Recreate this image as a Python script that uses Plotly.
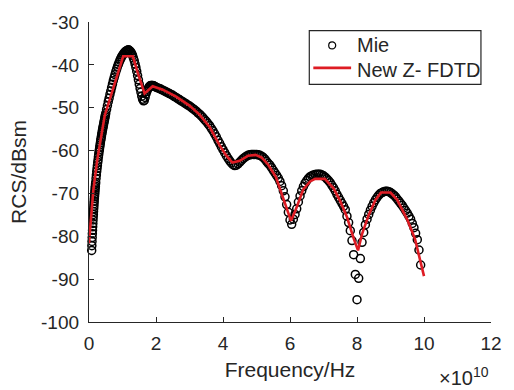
import plotly.graph_objects as go

# Frequency in units of 1e10 Hz, RCS in dBsm
mie_freq = [
    0.080, 0.085, 0.090, 0.095, 0.100, 0.105, 0.110, 0.115, 0.120, 0.125,
    0.130, 0.135, 0.140, 0.145, 0.150, 0.155, 0.160, 0.165, 0.170, 0.175,
    0.180, 0.185, 0.190, 0.195, 0.200,
    0.21, 0.22, 0.23, 0.24, 0.25, 0.26, 0.27, 0.28, 0.29, 0.30,
    0.31, 0.32, 0.33, 0.34, 0.35, 0.36, 0.37, 0.38, 0.39, 0.40,
    0.41, 0.42, 0.43, 0.44, 0.45, 0.46, 0.47, 0.48, 0.49, 0.50,
    0.525, 0.55, 0.575, 0.6, 0.625, 0.65, 0.675, 0.7, 0.725, 0.75,
    0.775, 0.8, 0.825, 0.85, 0.875, 0.9, 0.925, 0.95, 0.975, 1.0,
    1.025, 1.05, 1.075, 1.1, 1.125, 1.15, 1.175, 1.2, 1.225, 1.25,
    1.275, 1.3, 1.325, 1.35, 1.375, 1.4, 1.425, 1.45, 1.475, 1.5,
    1.525, 1.55, 1.575, 1.6, 1.625, 1.65, 1.675, 1.7, 1.725, 1.75,
    1.775, 1.8, 1.825, 1.85, 1.875, 1.9, 1.925, 1.95, 1.975, 2.0,
    2.05, 2.1, 2.15, 2.2, 2.25, 2.3, 2.35, 2.4, 2.45, 2.5,
    2.55, 2.6, 2.65, 2.7, 2.75, 2.8, 2.85, 2.9, 2.95, 3.0,
    3.05, 3.1, 3.15, 3.2, 3.25, 3.3, 3.35, 3.4, 3.45, 3.5,
    3.55, 3.6, 3.65, 3.7, 3.75, 3.8, 3.85, 3.9, 3.95, 4.0,
    4.05, 4.1, 4.15, 4.2, 4.25, 4.3, 4.35, 4.4, 4.45, 4.5,
    4.55, 4.6, 4.65, 4.7, 4.75, 4.8, 4.85, 4.9, 4.95, 5.0,
    5.05, 5.1, 5.15, 5.2, 5.25, 5.3, 5.35, 5.4, 5.45, 5.5,
    5.55, 5.6, 5.65, 5.7, 5.75, 5.8, 5.85, 5.9, 5.95, 6.0,
    6.05, 6.1, 6.15, 6.2, 6.25, 6.3, 6.35, 6.4, 6.45, 6.5,
    6.55, 6.6, 6.65, 6.7, 6.75, 6.8, 6.85, 6.9, 6.95, 7.0,
    7.05, 7.1, 7.15, 7.2, 7.25, 7.3, 7.35, 7.4, 7.45, 7.5,
    7.55, 7.6, 7.65, 7.7, 7.75, 7.8, 7.85, 7.9, 7.95, 8.0,
    8.05, 8.1, 8.15, 8.2, 8.25, 8.3, 8.35, 8.4, 8.45, 8.5,
    8.55, 8.6, 8.65, 8.7, 8.75, 8.8, 8.85, 8.9, 8.95, 9.0,
    9.05, 9.1, 9.15, 9.2, 9.25, 9.3, 9.35, 9.4, 9.45, 9.5,
    9.55, 9.6, 9.65, 9.7, 9.75, 9.8, 9.85, 9.9,
]
mie_rcs = [
    -83.3, -82.2, -81.2, -80.3, -79.4, -78.6, -77.8, -77.0, -76.2, -75.5,
    -74.9, -74.2, -73.6, -73.0, -72.4, -71.8, -71.2, -70.7, -70.2, -69.7,
    -69.2, -68.7, -68.3, -67.8, -67.4,
    -66.5, -65.7, -64.9, -64.2, -63.5, -62.8, -62.2, -61.5, -60.9, -60.3,
    -59.8, -59.2, -58.7, -58.2, -57.6, -57.2, -56.7, -56.2, -55.8, -55.3,
    -54.9, -54.5, -54.1, -53.7, -53.3, -52.9, -52.5, -52.1, -51.7, -51.3,
    -50.4, -49.5, -48.6, -47.8, -46.9, -46.1, -45.3, -44.5, -43.7, -43.0,
    -42.3, -41.6, -41.0, -40.4, -39.9, -39.4, -38.9, -38.5, -38.1, -37.8,
    -37.5, -37.2, -37.0, -36.8, -36.7, -36.6, -36.5, -36.6, -36.8, -37.0,
    -37.4, -37.8, -38.4, -39.0, -39.8, -40.6, -41.5, -42.5, -43.5, -44.5,
    -45.5, -46.4, -47.3, -48.0, -48.4, -48.3, -47.6, -46.8, -46.2, -45.7,
    -45.4, -45.1, -44.9, -44.8, -44.8, -44.8, -44.9, -45.0, -45.1, -45.2,
    -45.4, -45.5, -45.7, -45.9, -46.1, -46.3, -46.5, -46.7, -46.9, -47.1,
    -47.4, -47.6, -47.9, -48.1, -48.4, -48.6, -48.9, -49.1, -49.4, -49.6,
    -49.9, -50.2, -50.5, -50.8, -51.2, -51.5, -51.9, -52.3, -52.8, -53.2,
    -53.7, -54.2, -54.8, -55.4, -56.1, -56.8, -57.6, -58.3, -59.1, -59.8,
    -60.5, -61.2, -61.8, -62.4, -62.9, -63.3, -63.5, -63.4, -63.1, -62.7,
    -62.3, -61.9, -61.6, -61.3, -61.1, -61.0, -60.9, -60.9, -60.9, -60.9,
    -61.0, -61.1, -61.3, -61.6, -62.0, -62.5, -63.0, -63.4, -64.0, -64.6,
    -65.2, -65.8, -66.4, -67.2, -68.2, -69.4, -70.8, -72.6, -74.4, -76.2,
    -77.2, -76.0, -74.9, -73.6, -72.0, -70.6, -69.4, -68.4, -67.6, -67.0,
    -66.5, -66.1, -65.9, -65.7, -65.6, -65.5, -65.5, -65.5, -65.7, -65.9,
    -66.2, -66.6, -67.0, -67.5, -68.1, -68.7, -69.4, -70.2, -70.9, -71.6,
    -72.3, -73.0, -73.8, -75.3, -76.8, -78.7, -81.0, -84.3, -88.9, -94.8,
    -89.8, -85.2, -81.4, -79.1, -77.3, -76.0, -74.9, -73.9, -73.0, -72.2,
    -71.5, -70.9, -70.4, -70.0, -69.8, -69.6, -69.5, -69.5, -69.6, -69.8,
    -70.1, -70.4, -70.8, -71.3, -71.8, -72.3, -72.8, -73.4, -74.0, -74.6,
    -75.3, -76.0, -77.0, -78.0, -79.3, -80.8, -83.2, -86.7,
]

fdtd_freq = [0.0, 0.13, 0.25, 0.47, 1.02, 1.31, 1.46, 1.66, 1.9, 2.2,
             2.6, 3.0, 3.3, 3.6, 3.9, 4.1, 4.28, 4.5, 4.75, 4.97,
             5.15, 5.35, 5.58, 5.9, 6.03, 6.17, 6.4, 6.6, 6.75, 7.04,
             7.3, 7.5, 7.7, 7.9, 8.03, 8.15, 8.35, 8.55, 8.72, 9.0,
             9.2, 9.5, 9.73, 10.0]
fdtd_rcs = [-81.6, -69.2, -62.0, -51.8, -38.0, -38.0, -42.0, -46.7, -45.0, -45.8,
            -47.4, -49.5, -51.6, -54.5, -58.8, -61.2, -62.8, -62.4, -61.2, -61.0,
            -61.6, -63.3, -66.2, -73.8, -76.4, -73.8, -69.0, -67.2, -66.6, -66.6,
            -68.8, -71.8, -75.5, -80.5, -83.3, -79.5, -75.0, -71.5, -69.8, -69.8,
            -71.5, -76.1, -80.6, -89.3]

x_ticks = [0, 2, 4, 6, 8, 10, 12]
y_ticks = [-100, -90, -80, -70, -60, -50, -40, -30]
series_names = ["Mie", "New Z- FDTD"]

assert len(mie_freq) == len(mie_rcs)
assert len(fdtd_freq) == len(fdtd_rcs)

AX = "#262626"
RED = "rgb(222,28,36)"
FONT = "Liberation Sans, Arial, Helvetica, sans-serif"

fig = go.Figure()
fig.add_trace(go.Scatter(
    x=mie_freq, y=mie_rcs, mode="markers", name=series_names[0],
    cliponaxis=False, showlegend=False,
    marker=dict(symbol="circle-open", size=8, color="black", line=dict(width=1.5)),
))
fig.add_trace(go.Scatter(
    x=fdtd_freq, y=fdtd_rcs, mode="lines", name=series_names[1],
    showlegend=False,
    line=dict(color=RED, width=2.6),
))

fig.update_layout(
    width=514, height=390,
    margin=dict(l=89, r=20, t=14, b=68),
    paper_bgcolor="white", plot_bgcolor="white",
    font=dict(family=FONT, color=AX, size=19),
    showlegend=False,
    xaxis=dict(
        range=[0, 12], tickvals=x_ticks, ticktext=[str(v) for v in x_ticks],
        ticks="inside", ticklen=5, tickwidth=1.3, tickcolor=AX,
        showline=True, linecolor=AX, linewidth=1.3,
        showgrid=False, zeroline=False,
        tickfont=dict(size=19, family=FONT, color=AX),
        ticklabelstandoff=4,
        title=dict(text="Frequency/Hz", font=dict(size=21, family=FONT, color=AX), standoff=9),
    ),
    yaxis=dict(
        range=[-100, -30], tickvals=y_ticks, ticktext=[str(v) for v in y_ticks],
        ticks="inside", ticklen=5, tickwidth=1.3, tickcolor=AX,
        showline=True, linecolor=AX, linewidth=1.3,
        showgrid=False, zeroline=False,
        tickfont=dict(size=19, family=FONT, color=AX),
        ticklabelstandoff=5,
        title=dict(text="RCS/dBsm", font=dict(size=21, family=FONT, color=AX), standoff=8),
    ),
)

# Legend box (drawn in paper coordinates)
leg_x0, leg_x1, leg_y0, leg_y1 = 0.548, 0.975, 0.792, 0.971
row_mie, row_fdtd = 0.922, 0.840
fig.add_shape(type="rect", xref="paper", yref="paper",
              x0=leg_x0, x1=leg_x1, y0=leg_y0, y1=leg_y1,
              line=dict(color=AX, width=1.2), fillcolor="white", layer="above")
fig.add_shape(type="circle", xref="paper", yref="paper",
              xsizemode="pixel", ysizemode="pixel",
              xanchor=0.605, yanchor=row_mie, x0=-3.5, x1=3.5, y0=-3.5, y1=3.5,
              line=dict(color="black", width=1.2), layer="above")
fig.add_shape(type="line", xref="paper", yref="paper",
              x0=0.558, x1=0.652, y0=row_fdtd + 0.007, y1=row_fdtd + 0.007,
              line=dict(color=RED, width=2.6), layer="above")
fig.add_annotation(x=0.662, y=row_mie, xref="paper", yref="paper",
                   xanchor="left", yanchor="middle", showarrow=False,
                   text=series_names[0], font=dict(size=20, family=FONT, color=AX))
fig.add_annotation(x=0.662, y=row_fdtd, xref="paper", yref="paper",
                   xanchor="left", yanchor="middle", showarrow=False,
                   text=series_names[1], font=dict(size=20, family=FONT, color=AX))

fig.add_annotation(
    x=1.0, y=-0.182, xref="paper", yref="paper", xanchor="right", yanchor="middle",
    text="×10<sup>10</sup>", showarrow=False,
    font=dict(size=20, family=FONT, color=AX),
)

fig.write_html("out.html")
